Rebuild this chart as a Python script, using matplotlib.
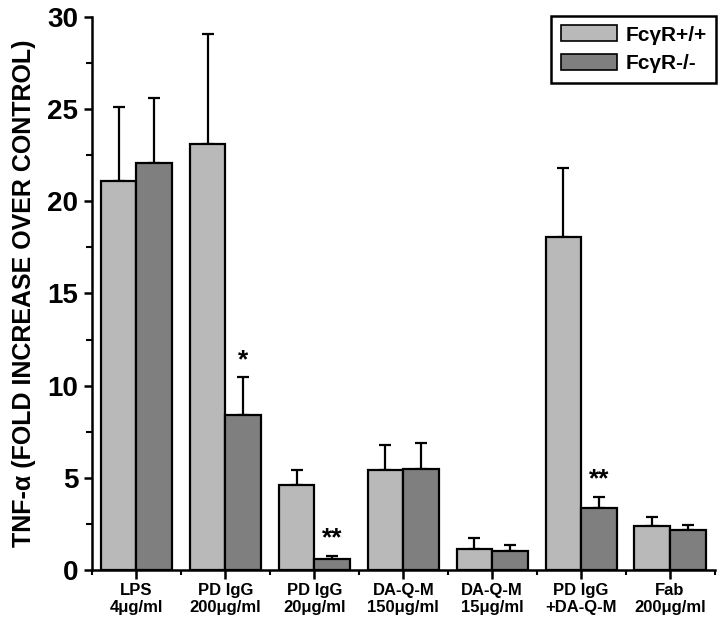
import matplotlib
matplotlib.use("Agg")
import matplotlib.pyplot as plt
import numpy as np
from matplotlib.ticker import MultipleLocator, FixedLocator
from matplotlib.patches import Patch

plt.rcParams['font.family'] = ['Liberation Sans', 'DejaVu Sans']
plt.rcParams['font.weight'] = 'bold'

categories = ["LPS\n4μg/ml", "PD IgG\n200μg/ml", "PD IgG\n20μg/ml", "DA-Q-M\n150μg/ml",
              "DA-Q-M\n15μg/ml", "PD IgG\n+DA-Q-M", "Fab\n200μg/ml"]
wt_values = [21.1, 23.1, 4.6, 5.4, 1.15, 18.05, 2.38]
wt_err_top = [25.1, 29.1, 5.4, 6.8, 1.75, 21.8, 2.87]
ko_values = [22.1, 8.4, 0.57, 5.5, 1.05, 3.35, 2.15]
ko_err_top = [25.6, 10.45, 0.75, 6.88, 1.35, 3.95, 2.45]
ko_marks = ["", "*", "**", "", "", "**", ""]
series_labels = ["FcγR+/+", "FcγR-/-"]

light = "#b9b9b9"
dark = "#7f7f7f"

fig = plt.figure(figsize=(7.2, 6.22), dpi=100)
ax = fig.add_axes([0.1278, 0.0836, 0.8646, 0.8891])

x = np.arange(len(categories))
w = 0.4
wt = np.array(wt_values); ko = np.array(ko_values)
wt_up = np.array(wt_err_top) - wt
ko_up = np.array(ko_err_top) - ko

ax.bar(x - w/2, wt, w, color=light, edgecolor='black', linewidth=1.6, zorder=2)
ax.bar(x + w/2, ko, w, color=dark, edgecolor='black', linewidth=1.6, zorder=2)
ax.errorbar(x - w/2, wt, yerr=[np.zeros_like(wt), wt_up], fmt='none', ecolor='black',
            elinewidth=1.6, capsize=4.5, capthick=1.6, zorder=1)
ax.errorbar(x + w/2, ko, yerr=[np.zeros_like(ko), ko_up], fmt='none', ecolor='black',
            elinewidth=1.6, capsize=4.5, capthick=1.6, zorder=1)

for xi, top, m in zip(x, ko_err_top, ko_marks):
    if m:
        ax.text(xi + w/2, top + 0.3, m, ha='center', va='bottom', fontsize=19, fontweight='bold')

ax.set_xlim(-0.5, 6.5)
ax.set_ylim(0, 30)
ax.spines['top'].set_visible(False)
ax.spines['right'].set_visible(False)
for s in ['left', 'bottom']:
    ax.spines[s].set_linewidth(1.8)

ax.yaxis.set_major_locator(MultipleLocator(5))
ax.yaxis.set_minor_locator(MultipleLocator(2.5))
ax.set_xticks(x)
ax.set_xticklabels(categories, fontsize=12, fontweight='bold', linespacing=1.15)
ax.xaxis.set_minor_locator(FixedLocator(np.arange(-0.5, 7.0, 1.0)))
ax.tick_params(axis='y', which='major', labelsize=20, length=6, width=1.8, pad=4)
ax.tick_params(axis='y', which='minor', length=4, width=1.5)
ax.tick_params(axis='x', which='major', length=6.5, width=1.8, pad=3)
ax.tick_params(axis='x', which='minor', length=3.5, width=1.5)
for lab in ax.get_yticklabels():
    lab.set_fontweight('bold')

ax.set_ylabel("TNF-α (FOLD INCREASE OVER CONTROL)", fontsize=18, fontweight='bold', labelpad=8)

handles = [Patch(facecolor=light, edgecolor='black', linewidth=1.2),
           Patch(facecolor=dark, edgecolor='black', linewidth=1.2)]
leg = fig.legend(handles, series_labels, loc='upper right', bbox_to_anchor=(0.9944, 0.9743),
                 fancybox=False, framealpha=1, edgecolor='black',
                 prop={'weight': 'bold', 'size': 15}, handlelength=2.7, handleheight=0.8,
                 labelspacing=0.45, borderpad=0.45, handletextpad=0.4, borderaxespad=0)
leg.get_frame().set_linewidth(1.8)

fig.savefig("out.png", dpi=100)
